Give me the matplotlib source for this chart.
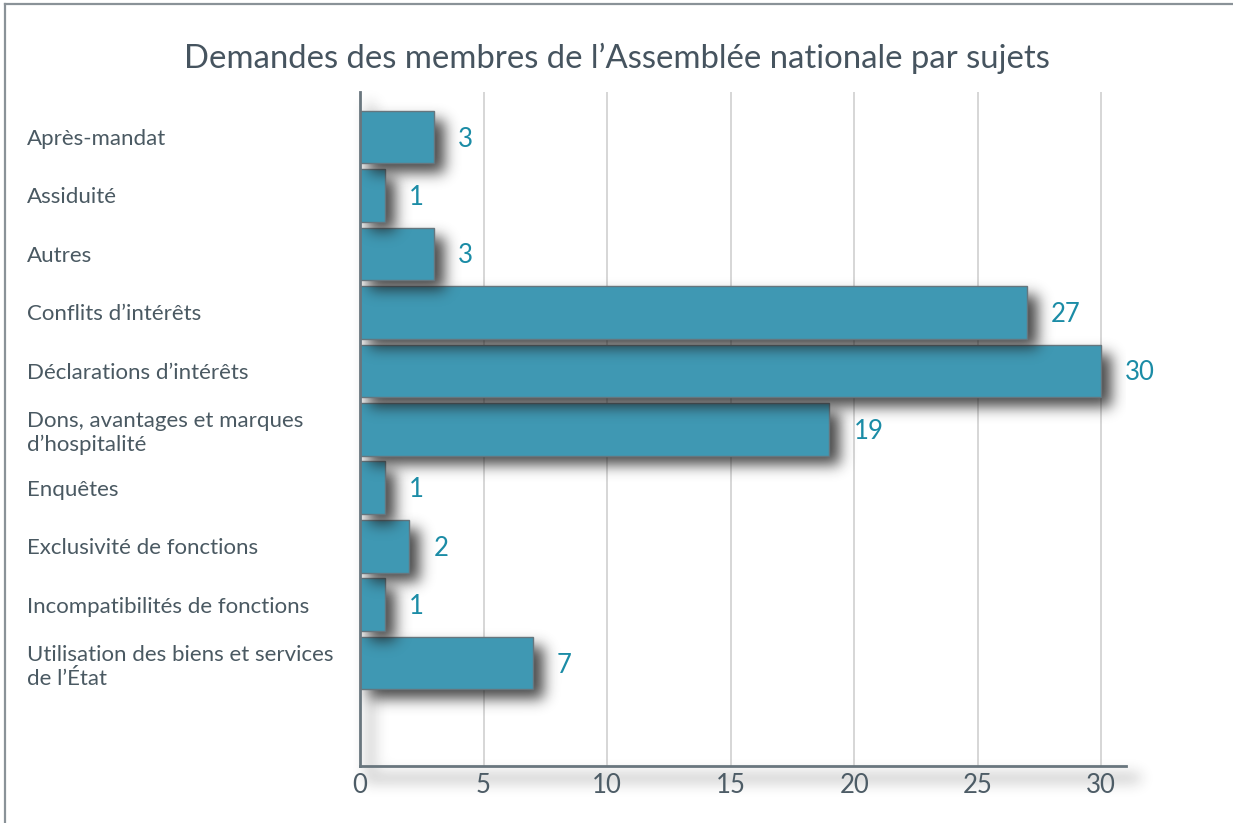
import numpy as np
import matplotlib
matplotlib.use("Agg")
import matplotlib.pyplot as plt
from matplotlib.lines import Line2D

categories = [
    "Après-mandat",
    "Assiduité",
    "Autres",
    "Conflits d’intérêts",
    "Déclarations d’intérêts",
    "Dons, avantages et marques\nd’hospitalité",
    "Enquêtes",
    "Exclusivité de fonctions",
    "Incompatibilités de fonctions",
    "Utilisation des biens et services\nde l’État",
]
values = [3, 1, 3, 27, 30, 19, 1, 2, 1, 7]
xticks = [0, 5, 10, 15, 20, 25, 30]
title = "Demandes des membres de l’Assemblée nationale par sujets"

FONT = "Lato"
plt.rcParams["font.family"] = [FONT, "DejaVu Sans"]

W, H = 1233, 823
fig = plt.figure(figsize=(W / 100, H / 100), dpi=100)
fig.patch.set_facecolor("white")

ax_l, ax_r, ax_t, ax_b = 360, 1126, 92, 766
ax = fig.add_axes([ax_l / W, 1 - ax_b / H, (ax_r - ax_l) / W, (ax_b - ax_t) / H])
N = len(values)
xlim = (0, 31.0)
ylim = (10.76, -0.77)
ax.set_xlim(*xlim)
ax.set_ylim(*ylim)

bar_color = "#3f98b3"
edge_color = "#66767e"
bar_h = 0.9

# pixel scale
pxu_x = (ax_r - ax_l) / (xlim[1] - xlim[0])
pxu_y = (ax_b - ax_t) / (ylim[0] - ylim[1])


def blur(a, sigma):
    r = int(3 * sigma)
    k = np.exp(-0.5 * (np.arange(-r, r + 1) / sigma) ** 2)
    k /= k.sum()
    a = np.apply_along_axis(lambda m: np.convolve(m, k, mode="same"), 0, a)
    a = np.apply_along_axis(lambda m: np.convolve(m, k, mode="same"), 1, a)
    return a


def shadow_image(x0, x1, y0, y1, rects, sigma_px, max_alpha, zorder, clip=True):
    nx = int((x1 - x0) * pxu_x)
    ny = int((y1 - y0) * pxu_y)
    xs = x0 + (np.arange(nx) + 0.5) / pxu_x
    ys = y0 + (np.arange(ny) + 0.5) / pxu_y
    X, Y = np.meshgrid(xs, ys)
    m = np.zeros_like(X)
    for (rx0, rx1, ry0, ry1) in rects:
        m[(X >= rx0) & (X <= rx1) & (Y >= ry0) & (Y <= ry1)] = 1.0
    m = blur(m, sigma_px)
    img = np.zeros((ny, nx, 4))
    img[..., :3] = 0.12
    img[..., 3] = np.clip(m, 0, 1) * max_alpha
    im = ax.imshow(img, extent=(x0, x1, y1, y0), origin="upper", aspect="auto",
                   interpolation="bilinear", zorder=zorder)
    im.set_clip_on(clip)
    return im


off_x = 10 / pxu_x
off_y = 9 / pxu_y

# spine shadows
shadow_image(-0.3, 32.4, -0.9, 11.7,
             [(0.25, 0.55, ylim[1] + 0.2, ylim[0] + 0.1),
              (0.2, 31.0 + 0.5, ylim[0] + 0.12, ylim[0] + 0.26)],
             7, 0.3, 0.5, clip=False)

for i in range(N - 1, -1, -1):
    v = values[i]
    z = 2 * (N - i)
    y0b, y1b = i - bar_h / 2, i + bar_h / 2
    shadow_image(0, v + 2.2, y0b - 0.3, y1b + 0.9,
                 [(off_x, v + off_x, y0b + off_y, y1b + off_y)],
                 7, 0.82, z + 0.5)
    ax.barh(i, v, height=bar_h, color=bar_color, edgecolor=edge_color,
            linewidth=1.0, zorder=z + 1)
    ax.annotate(str(v), (v, i), xytext=(24, -2), textcoords="offset pixels",
                ha="left", va="center", fontsize=18.5, color="#1b8ca6", zorder=50)

ax.set_xlim(*xlim)
ax.set_ylim(*ylim)

# grid
ax.set_xticks(xticks)
ax.xaxis.grid(True, color="#cfcfcf", linewidth=1.2, zorder=0)
ax.set_axisbelow(True)
for s in ["top", "right"]:
    ax.spines[s].set_visible(False)
for s in ["left", "bottom"]:
    ax.spines[s].set_color("#69767e")
    ax.spines[s].set_linewidth(2.0)
    ax.spines[s].set_zorder(60)
ax.tick_params(axis="x", length=0, pad=5, labelsize=18.5, labelcolor="#4d5c66")

ax.set_yticks(range(N))
ax.set_yticklabels(categories, fontsize=16, color="#4a5962", linespacing=1.22)
ax.tick_params(axis="y", length=0, pad=(ax_l - 27) * 0.72)
for lbl in ax.get_yticklabels():
    lbl.set_horizontalalignment("left")

fig.text(0.5, 1 - 58 / H, title, ha="center", va="center", fontsize=23.7, color="#46545f")

# frame
fig.add_artist(Line2D([5 / W, 1], [1 - 4 / H, 1 - 4 / H], color="#8a9298", linewidth=1.6))
fig.add_artist(Line2D([5 / W, 5 / W], [0, 1 - 4 / H], color="#8a9298", linewidth=1.6))

fig.savefig("out.png", dpi=100, facecolor="white")
